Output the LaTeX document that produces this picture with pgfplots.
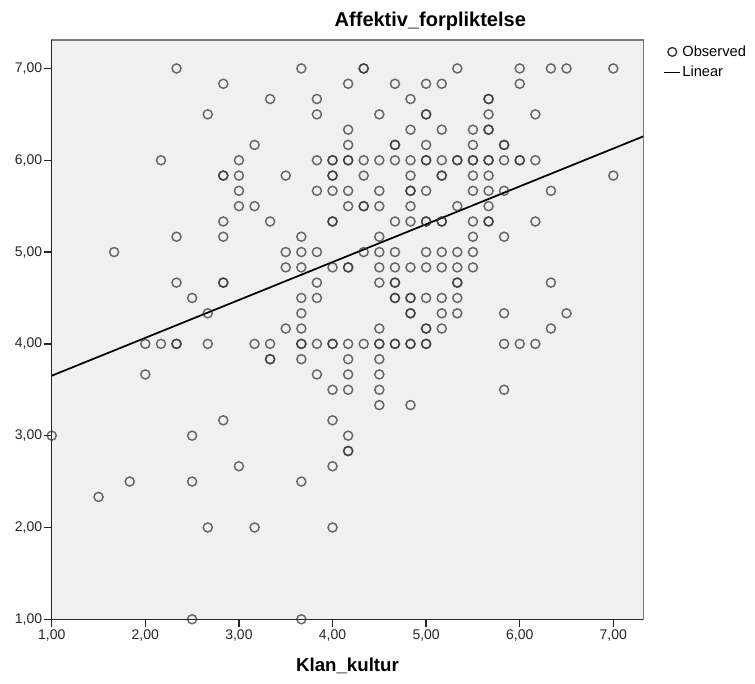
\documentclass[border=0pt]{standalone}
\usepackage{pgfplots}
\pgfplotsset{compat=1.18}
\usepackage{fontspec}
\setmainfont{Liberation Sans}
\usetikzlibrary{calc}
\definecolor{bg}{HTML}{F0F0F0}
\definecolor{framec}{HTML}{7A7A7A}
\definecolor{mk}{HTML}{333333}

\pgfplotstableread{
x y
2.333 7.0
3.667 7.0
4.333 7.0
4.333 7.0
5.333 7.0
6.000 7.0
6.333 7.0
6.500 7.0
7.000 7.0
2.833 6.833
4.167 6.833
4.667 6.833
5.000 6.833
5.167 6.833
6.000 6.833
3.333 6.667
3.833 6.667
4.833 6.667
5.667 6.667
5.667 6.667
2.667 6.5
3.833 6.5
4.500 6.5
5.000 6.5
5.000 6.5
5.667 6.5
6.167 6.5
4.167 6.333
4.833 6.333
5.167 6.333
5.500 6.333
5.667 6.333
5.667 6.333
3.167 6.167
4.167 6.167
4.667 6.167
4.667 6.167
5.000 6.167
5.500 6.167
5.833 6.167
5.833 6.167
2.167 6.0
3.000 6.0
3.833 6.0
4.000 6.0
4.000 6.0
4.167 6.0
4.167 6.0
4.333 6.0
4.500 6.0
4.667 6.0
4.833 6.0
5.000 6.0
5.000 6.0
5.167 6.0
5.333 6.0
5.333 6.0
5.500 6.0
5.500 6.0
5.667 6.0
5.667 6.0
5.833 6.0
6.000 6.0
6.000 6.0
6.167 6.0
2.833 5.833
2.833 5.833
3.000 5.833
3.500 5.833
4.000 5.833
4.000 5.833
4.333 5.833
4.833 5.833
5.167 5.833
5.167 5.833
5.500 5.833
5.667 5.833
7.000 5.833
3.000 5.667
3.833 5.667
4.000 5.667
4.167 5.667
4.500 5.667
4.833 5.667
4.833 5.667
5.000 5.667
5.500 5.667
5.667 5.667
5.833 5.667
6.333 5.667
3.000 5.5
3.167 5.5
4.167 5.5
4.333 5.5
4.333 5.5
4.500 5.5
4.833 5.5
5.333 5.5
5.667 5.5
2.833 5.333
3.333 5.333
4.000 5.333
4.000 5.333
4.667 5.333
4.833 5.333
5.000 5.333
5.000 5.333
5.167 5.333
5.167 5.333
5.500 5.333
5.667 5.333
5.667 5.333
6.167 5.333
2.333 5.167
2.833 5.167
3.667 5.167
4.500 5.167
5.500 5.167
5.833 5.167
1.667 5.0
3.500 5.0
3.667 5.0
3.833 5.0
4.333 5.0
4.500 5.0
4.667 5.0
5.000 5.0
5.167 5.0
5.333 5.0
5.500 5.0
3.500 4.833
3.667 4.833
4.000 4.833
4.167 4.833
4.167 4.833
4.500 4.833
4.667 4.833
4.833 4.833
5.000 4.833
5.167 4.833
5.333 4.833
5.500 4.833
2.333 4.667
2.833 4.667
2.833 4.667
3.833 4.667
4.500 4.667
4.667 4.667
4.667 4.667
5.333 4.667
5.333 4.667
6.333 4.667
2.500 4.5
3.667 4.5
3.833 4.5
4.667 4.5
4.667 4.5
4.833 4.5
4.833 4.5
5.000 4.5
5.167 4.5
5.333 4.5
2.667 4.333
3.667 4.333
4.833 4.333
4.833 4.333
5.167 4.333
5.333 4.333
5.833 4.333
6.500 4.333
3.500 4.167
3.667 4.167
4.500 4.167
5.000 4.167
5.000 4.167
5.167 4.167
6.333 4.167
2.000 4.0
2.167 4.0
2.333 4.0
2.333 4.0
2.667 4.0
3.167 4.0
3.333 4.0
3.667 4.0
3.667 4.0
3.833 4.0
4.000 4.0
4.000 4.0
4.167 4.0
4.333 4.0
4.500 4.0
4.500 4.0
4.667 4.0
4.667 4.0
4.833 4.0
4.833 4.0
5.000 4.0
5.000 4.0
5.833 4.0
6.000 4.0
6.167 4.0
3.333 3.833
3.333 3.833
3.667 3.833
4.167 3.833
4.500 3.833
2.000 3.667
3.833 3.667
4.167 3.667
4.500 3.667
4.000 3.5
4.167 3.5
4.500 3.5
5.833 3.5
4.500 3.333
4.833 3.333
2.833 3.167
4.000 3.167
1.000 3.0
2.500 3.0
4.167 3.0
4.167 2.833
4.167 2.833
3.000 2.667
4.000 2.667
1.833 2.5
2.500 2.5
3.667 2.5
1.500 2.333
2.667 2.0
3.167 2.0
4.000 2.0
2.500 1.0
3.667 1.0
}\observed

\begin{document}
\begin{tikzpicture}
\begin{axis}[
  name=ax,
  scale only axis,
  width=443.7pt, height=434.5pt,
  xmin=1, xmax=7.32, ymin=1, ymax=7.31,
  axis background/.style={fill=bg},
  axis line style={framec, line width=1pt},
  xtick={1,2,3,4,5,6,7}, ytick={1,2,3,4,5,6,7},
  xtick pos=bottom, ytick pos=left,
  tick align=outside,
  major tick length=6pt,
  tick style={black!85, line width=1pt},
  /pgf/number format/.cd, fixed, fixed zerofill, precision=2, use comma, assume math mode=true,
  /pgfplots/.cd,
  ticklabel style={font=\fontsize{10.5}{12}\selectfont, text=black!85},
  yticklabel style={inner sep=1pt},
  xticklabel style={inner sep=2pt},
  clip mode=global,
  title={Affektiv\_forpliktelse},
  title style={at={(rel axis cs:0.64,1)}, anchor=base, yshift=4pt, font=\bfseries\fontsize{15}{17}\selectfont},
  xlabel={Klan\_kultur},
  xlabel style={at={(rel axis cs:0.5,0)}, anchor=base, yshift=-39pt, font=\bfseries\fontsize{14}{16}\selectfont},
  legend style={at={(rel axis cs:1,1)}, anchor=north west, xshift=14pt, yshift=-2pt, draw=none, fill=none,
    font=\fontsize{11}{13}\selectfont, row sep=4pt, inner sep=1pt,
    nodes={inner sep=1pt}},
  legend cell align=left,
]
\addplot[only marks, mark=o, mark size=3.4pt, mark options={draw=mk, line width=1.1pt, draw opacity=0.72},
  legend image code/.code={\draw[mk, line width=1pt] (6pt,0) circle (3.3pt);}]
  table[x=x, y=y] {\observed};
\addlegendentry{Observed}
\addplot[black, line width=1.3pt, no marks,
  legend image code/.code={\draw[black, line width=1.1pt] (0pt,0) -- (12pt,0);}]
  coordinates {(1,3.653) (7.32,6.26)};
\addlegendentry{Linear}
\end{axis}
\draw[black!85, line width=1pt] (ax.north west) -- (ax.south west) -- (ax.south east);
\pgfresetboundingbox
\path ($(ax.south west)+(-38.8pt,-48.5pt)$) rectangle ($(ax.north east)+(83.8pt,30pt)$);
\end{tikzpicture}
\end{document}
